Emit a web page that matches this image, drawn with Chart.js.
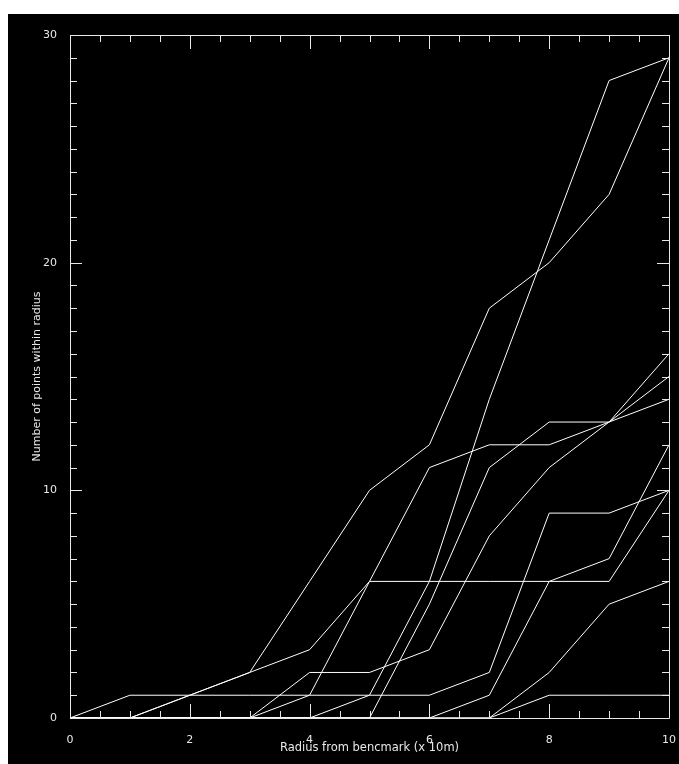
<!DOCTYPE html>
<html>
<head>
<meta charset="utf-8">
<script src="https://cdn.jsdelivr.net/npm/chart.js@4"></script>
<style>
  html, body { margin: 0; padding: 0; background: #ffffff; }
  #wrap { position: absolute; left: 8px; top: 14px; width: 671px; height: 750px; background: #000000; }
</style>
</head>
<body>
<div id="wrap"><canvas id="chart" width="671" height="750"></canvas></div>
<script>
// Radius steps (x 10m)
const radius = [0, 1, 2, 3, 4, 5, 6, 7, 8, 9, 10];

// Cumulative counts, one series per benchmark
const seriesA = [0, 1, 1, 1, 1, 1, 1, 2, 9, 9, 10];
const seriesB = [0, 0, 1, 2, 3, 6, 6, 6, 6, 6, 10];
const seriesC = [0, 0, 1, 2, 6, 10, 12, 18, 20, 23, 29];
const seriesD = [0, 0, 0, 0, 2, 2, 3, 8, 11, 13, 15];
const seriesE = [0, 0, 0, 0, 1, 6, 11, 12, 12, 13, 14];
const seriesF = [0, 0, 0, 0, 0, 1, 6, 14, 21, 28, 29];
const seriesG = [0, 0, 0, 0, 0, 0, 5, 11, 13, 13, 16];
const seriesH = [0, 0, 0, 0, 0, 0, 0, 1, 6, 7, 12];
const seriesI = [0, 0, 0, 0, 0, 0, 0, 0, 2, 5, 6];
const seriesJ = [0, 0, 0, 0, 0, 0, 0, 0, 1, 1, 1];

const xTicks = [0, 2, 4, 6, 8, 10];
const yTicks = [0, 10, 20, 30];

const allSeries = [seriesA, seriesB, seriesC, seriesD, seriesE, seriesF, seriesG, seriesH, seriesI, seriesJ];

const fg = '#e8e8e8';
const font = { family: "'DejaVu Sans', sans-serif", size: 11 };

// IDL style box with inward ticks on all four sides
const frame = {
  id: 'frame',
  afterDatasetsDraw(chart) {
    const { ctx, chartArea: a, scales: { x, y } } = chart;
    ctx.save();
    ctx.strokeStyle = fg;
    ctx.lineWidth = 1;
    ctx.beginPath();
    ctx.rect(Math.round(a.left) + 0.5, Math.round(a.top) + 0.5,
             Math.round(a.right - a.left), Math.round(a.bottom - a.top));
    for (let v = x.min; v <= x.max + 1e-9; v += 0.5) {
      const px = Math.round(x.getPixelForValue(v)) + 0.5;
      const len = xTicks.includes(v) ? 14 : 7;
      ctx.moveTo(px, a.bottom); ctx.lineTo(px, a.bottom - len);
      ctx.moveTo(px, a.top); ctx.lineTo(px, a.top + len);
    }
    for (let v = y.min; v <= y.max; v += 1) {
      const py = Math.round(y.getPixelForValue(v)) + 0.5;
      const len = yTicks.includes(v) ? 12 : 7;
      ctx.moveTo(a.left, py); ctx.lineTo(a.left + len, py);
      ctx.moveTo(a.right, py); ctx.lineTo(a.right - len, py);
    }
    ctx.stroke();
    ctx.restore();
  }
};

new Chart(document.getElementById('chart'), {
  type: 'line',
  data: {
    datasets: allSeries.map(s => ({
      data: radius.map((r, i) => ({ x: r, y: s[i] })),
      borderColor: '#ffffff',
      borderWidth: 1,
      pointRadius: 0,
      tension: 0,
      fill: false
    }))
  },
  options: {
    responsive: false,
    animation: false,
    devicePixelRatio: 1,
    layout: { padding: { top: 21, right: 10, left: 0, bottom: 0 } },
    plugins: { legend: { display: false }, tooltip: { enabled: false } },
    scales: {
      x: {
        type: 'linear',
        min: 0, max: 10,
        afterFit: s => { s.height = 46; s.paddingRight = 0; s.paddingLeft = 0; },
        afterBuildTicks: s => { s.ticks = xTicks.map(v => ({ value: v })); },
        grid: { display: false },
        border: { display: false },
        ticks: { color: fg, font, padding: 8, maxRotation: 0 },
        title: { display: true, text: 'Radius from bencmark (x 10m)', color: fg, font: { family: font.family, size: 11.5 }, padding: { top: 0, bottom: 9 } }
      },
      y: {
        min: 0, max: 30,
        afterFit: s => { s.width = 62; s.paddingTop = 0; s.paddingBottom = 0; },
        afterBuildTicks: s => { s.ticks = yTicks.map(v => ({ value: v })); },
        grid: { display: false },
        border: { display: false },
        ticks: { color: fg, font, padding: 5 },
        title: { display: true, text: 'Number of points within radius', color: fg, font, padding: { top: 23, bottom: 0 } }
      }
    }
  },
  plugins: [frame]
});
</script>
</body>
</html>
